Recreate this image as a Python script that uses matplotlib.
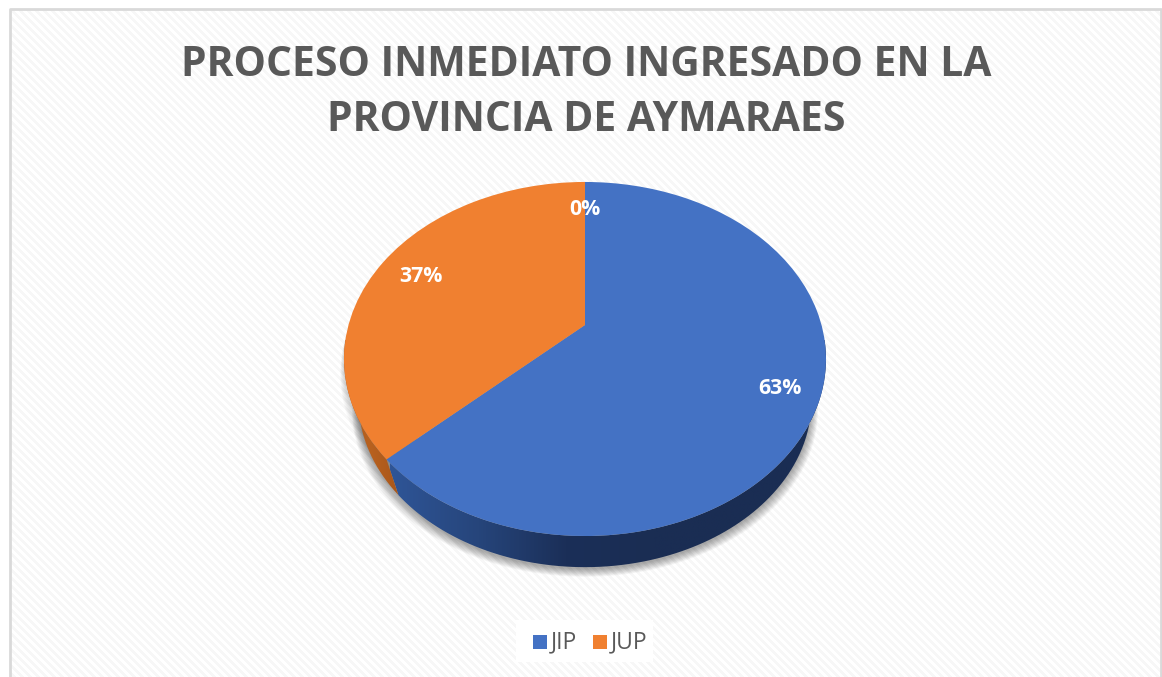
import numpy as np
import matplotlib
matplotlib.use("Agg")
import matplotlib.pyplot as plt
from matplotlib.patches import PathPatch, Rectangle
from matplotlib.path import Path
from matplotlib.transforms import Transform
from matplotlib.colors import LinearSegmentedColormap

labels = ["JIP", "JUP", ""]
values = [63, 37, 0]
pct_labels = ["63%", "37%", "0%"]
title = "PROCESO INMEDIATO INGRESADO EN LA\nPROVINCIA DE AYMARAES"
colors = ["#4472C4", "#F08030", "#A5A5A5"]

W, H = 1162, 677
plt.rcParams["font.family"] = ["Open Sans", "DejaVu Sans"]
fig = plt.figure(figsize=(W / 100, H / 100), dpi=100, facecolor="white")

# page axes in pixel coordinates (y down)
bg = fig.add_axes([0, 0, 1, 1])
bg.set_xlim(0, W); bg.set_ylim(H, 0); bg.axis("off")
yy, xx = np.mgrid[0:H, 0:W]
pat = np.where(((xx - yy) % 8) < 4, 0.968, 1.0)
pat[:, :10] = 1; pat[:9, :] = 1; pat[:, 1160:] = 1
bg.imshow(pat, cmap="gray", vmin=0, vmax=1, extent=(0, W, H, 0), interpolation="nearest", aspect="auto", zorder=0)
bg.plot([9.5, 9.5, 1160.5, 1160.5], [H, 8.5, 8.5, H], color="#D9D9D9", lw=2, zorder=1)


class Persp(Transform):
    """Tilted-disc projection of pie coordinates to page pixels."""
    input_dims = output_dims = 2
    def __init__(self, s=1.0):
        super().__init__()
        self.s = s
    def transform_non_affine(self, v):
        v = np.asarray(v, float)
        x, y = v[:, 0], v[:, 1]
        k, a, b = 0.192, 236.5, 170.5
        d = 1 + k * y
        px, py = a * x / d, 325 - b * y / d
        yv = 1055.0
        return np.column_stack([585 + self.s * px, yv + self.s * (py - yv)])
    def transform_path_non_affine(self, path):
        return Path(self.transform_non_affine(path.vertices), path.codes)
    def inverted(self):
        return self


ax = bg
wedges, _ = ax.pie(values, colors=colors, startangle=90, counterclock=False, radius=1,
                   center=(0, 0), frame=False)
ax.set_aspect("auto"); ax.set_xlim(0, W); ax.set_ylim(H, 0); ax.axis("off")

top = Persp(1.0); bot = Persp(0.94)


def arc(t1, t2, n=160):
    t = np.radians(np.linspace(t1, t2, n))
    return np.column_stack([np.cos(t), np.sin(t)])


# soft shadow beneath the pie: stacked, gradually growing outlines
base = bot.transform_non_affine(arc(0, 360))
for i in range(12):
    verts = base.copy()
    verts[:, 0] = 585 + (verts[:, 0] - 585) * (1.0 + 0.0026 * i)
    verts[:, 1] = verts[:, 1] + 2 + 0.7 * i
    ax.add_patch(PathPatch(Path(verts), fc="black", ec="none", alpha=0.032, zorder=2))
for i in range(8):
    verts = top.transform_non_affine(arc(150, 235))
    verts[:, 0] = 585 + (verts[:, 0] - 585) * (1 + 0.0022 * i)
    verts[:, 1] += 4 + 1.6 * i
    ax.add_patch(PathPatch(Path(verts), fc="black", ec="none", alpha=0.025, zorder=2))

# extruded sides with a horizontal gradient
sides = [
    (wedges[0], ["#2F5597", "#26457B", "#1B2F58", "#1A2D53", "#1A2D53", "#1A2D53"], (390, 830)),
    (wedges[1], ["#A9581D", "#B8611F", "#A8561A"], (340, 400)),
]
for w, cols, (x0, x1) in sides:
    a = arc(w.theta1, w.theta2)
    front = a[a[:, 1] <= 0.35]
    if len(front) == 0:
        continue
    poly = np.vstack([top.transform_non_affine(front), bot.transform_non_affine(front)[::-1]])
    clip = PathPatch(Path(poly), transform=ax.transData, fc="none", ec="none")
    ax.add_patch(clip)
    cm = LinearSegmentedColormap.from_list("s", cols)
    g = np.linspace(0, 1, 256)[None, :]
    im = ax.imshow(g, cmap=cm, extent=(x0, x1, 600, 340), aspect="auto", zorder=3)
    im.set_clip_path(clip)

# top face: the pie wedges through the projection
for w in wedges:
    w.set_transform(top + ax.transData)
    w.set_zorder(4)
    w.set_edgecolor("none")

# percentage labels placed along each slice's mid angle
label_r = [0.84, 0.80, 0.80]
cum = np.cumsum([0] + values)
for i, txt in enumerate(pct_labels):
    ang = np.radians(90 - 3.6 * (cum[i] + cum[i + 1]) / 2)
    p = top.transform_non_affine(np.array([[label_r[i] * np.cos(ang), label_r[i] * np.sin(ang)]]))[0]
    ax.text(p[0], p[1] + 3, txt, color="white", fontsize=15.3, fontweight="bold",
            ha="center", va="center", zorder=6)

ax.text(586, 93, title, ha="center", va="center", fontsize=29.4, fontweight="bold",
        color="#595959", linespacing=1.48, zorder=6)

# legend
ax.add_patch(Rectangle((516, 620), 137, 42, fc="white", ec="none", zorder=5))
lx = [(533, 551, "JIP", 0), (593, 611, "JUP", 1)]
for x0, xt, t, i in lx:
    ax.add_patch(Rectangle((x0, 635), 14, 14, fc=colors[i], ec="none", zorder=6))
    ax.text(xt, 642, labels[i], fontsize=16.5, color="#595959", ha="left", va="center", zorder=6)

fig.savefig("out.png", dpi=100, facecolor="white")
